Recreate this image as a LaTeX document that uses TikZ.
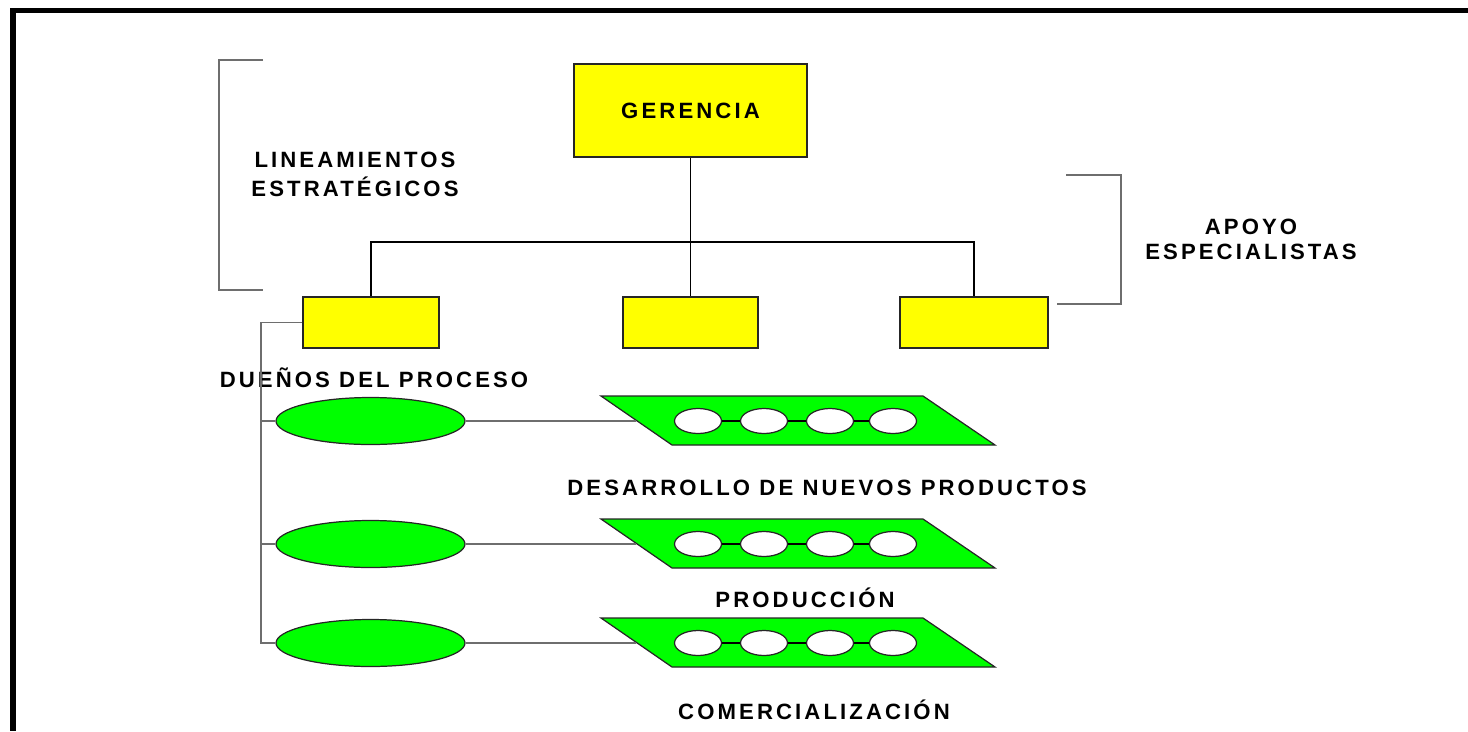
\documentclass[tikz,border=0pt]{standalone}
\usepackage{fontspec}
\setmainfont{Liberation Sans}
\newfontfamily\rotfont{Liberation Sans}[LetterSpace=14]
\usetikzlibrary{shapes.geometric}
\definecolor{amarillo}{RGB}{255,255,0}
\definecolor{verde}{RGB}{0,255,0}
\definecolor{gris}{RGB}{110,110,110}
\tikzset{
  rotulo/.style={font=\rotfont\bfseries\fontsize{12.6}{16.5}\selectfont,align=center,inner sep=0pt},
  caja/.style={draw=black!85,line width=0.9pt,fill=amarillo,inner sep=0pt},
  dueno/.style={ellipse,draw=black!85,line width=0.7pt,fill=verde,minimum width=3.78cm,minimum height=0.94cm,inner sep=0pt},
  ojo/.style={ellipse,draw=black!85,line width=0.7pt,fill=white,minimum width=0.94cm,minimum height=0.5cm,inner sep=0pt},
  plano/.style={draw=black!85,line width=0.7pt,fill=verde},
  linea/.style={draw=gris,line width=0.9pt},
  llave/.style={draw=gris,line width=0.6pt}
}
\begin{document}
\begin{tikzpicture}[x=0.02cm,y=-0.02cm]
\useasboundingbox (0,0) rectangle (1468,731);
% marco
\draw[line width=0.1cm] (10,10.5) -- (1468,10.5);
\draw[line width=0.12cm] (13,8) -- (13,731);

\node[caja,minimum width=4.66cm,minimum height=1.86cm] (gerencia) at (690.5,110.5) {};
\node[rotulo] at (gerencia) {GERENCIA};
\node[caja,minimum width=2.72cm,minimum height=1.02cm] (b1) at (371,322.5) {};
\node[caja,minimum width=2.7cm,minimum height=1.02cm] (b2) at (690.5,322.5) {};
\node[caja,minimum width=2.96cm,minimum height=1.02cm] (b3) at (974,322.5) {};
\coordinate (bus) at (690.5,242);
\draw[line width=1pt] (gerencia.south) -- (bus);
\draw[line width=1pt] (b1.north) |- (bus) -| (b3.north);
\draw[line width=1pt] (bus) -- (b2.north);

% llaves
\coordinate (l1) at (263,60);
\coordinate (l2) at (263,290);
\draw[llave] (l1) -- ++(-44,0) |- (l2);
\coordinate (r1) at (1066,175);
\coordinate (r2) at (1057,304);
\draw[llave] (r1) -| (1121,304) -- (r2);

\node[rotulo] (lin) at (355,174.5) {LINEAMIENTOS\\ESTRAT\'EGICOS};
\node[rotulo,font=\rotfont\bfseries\fontsize{12.6}{14.3}\selectfont] (apoyo) at (1251,239.5) {APOYO\\ESPECIALISTAS};
\node[rotulo] (duenos) at (374,378) {DUEÑOS DEL PROCESO};

% procesos
\node[dueno] (e1) at (370.5,421) {};
\node[dueno] (e2) at (370.5,544) {};
\node[dueno] (e3) at (370.5,643) {};
\coordinate (tronco) at (261,322.5);
\draw[linea] (b1.west) -- (tronco) |- (e3.west);
\draw[linea] (tronco |- e1.west) -- (e1.west);
\draw[linea] (tronco |- e2.west) -- (e2.west);

\foreach \y/\n in {421/1,544/2,643/3}{
  \filldraw[plano] (601,\y-25) -- (923,\y-25) -- (995,\y+24) -- (672,\y+24) -- cycle;
  \coordinate (p\n) at (636,\y);
  \draw[linea] (e\n.east) -- (p\n);
  \node[ojo] (o\n a) at (698,\y) {};
  \node[ojo] (o\n b) at (764,\y) {};
  \node[ojo] (o\n c) at (830,\y) {};
  \node[ojo] (o\n d) at (893,\y) {};
  \draw[line width=0.9pt] (o\n a) -- (o\n b) -- (o\n c) -- (o\n d);
}

\node[rotulo] (desarrollo) at (827,488) {DESARROLLO DE NUEVOS PRODUCTOS};
\node[rotulo] (produccion) at (805,598) {PRODUCCI\'ON};
\node[rotulo] (comercial) at (814,710) {COMERCIALIZACI\'ON};
\end{tikzpicture}
\end{document}
